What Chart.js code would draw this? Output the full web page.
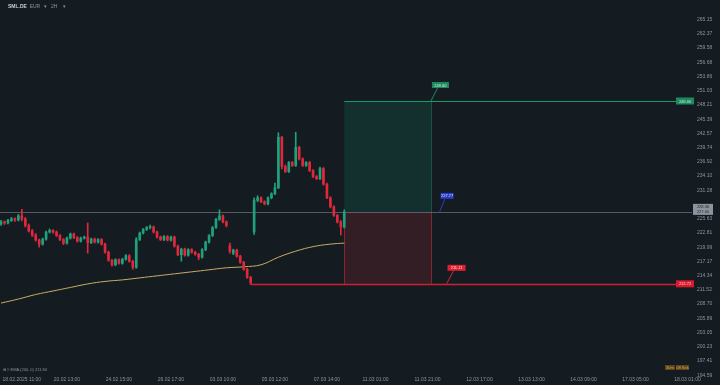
<!DOCTYPE html>
<html>
<head>
<meta charset="utf-8">
<title>SML.DE</title>
<script src="https://cdn.jsdelivr.net/npm/chart.js@4.4.1/dist/chart.umd.min.js"></script>
<style>
  html, body { margin: 0; padding: 0; background: #141c22; }
  #wrap { position: relative; width: 720px; height: 385px; overflow: hidden; }
  #chart { display: block; }
  .txt { position: absolute; font-family: "Liberation Sans", Arial, sans-serif; font-size: 5px; color: #8d949b; white-space: nowrap; }
  .sym { color: #c9cdd2; font-weight: bold; }
</style>
</head>
<body>
<div id="wrap">
  <canvas id="chart" width="720" height="385"></canvas>
  <div class="txt" style="left:8px; top:3px;"><span class="sym">SML.DE</span>&nbsp; EUR &nbsp;&nbsp;▾</div>
  <div class="txt" style="left:51px; top:3px;">2H &nbsp;&nbsp;&nbsp;▾</div>
  <div class="txt" style="left:3px; top:367px; font-size:4px;">⊞ ≡ EMA (200, 0) 211.84</div>
</div>

<script>
// Kerzen (2h)
const openPrices = [
  224.6, 225.0, 224.8, 225.3, 225.6, 225.4, 226.2, 225.6, 224.3, 223.2,
  222.4, 221.4, 220.6, 221.6, 223.0, 223.3, 223.0, 222.3, 221.5, 220.8,
  221.8, 222.6, 221.9, 221.2, 221.8, 222.0, 220.9, 221.6, 221.0, 221.5,
  220.6, 219.0, 217.4, 216.5, 217.5, 216.8, 217.6, 218.3, 217.2, 216.0,
  221.5, 222.8, 223.5, 223.9, 224.0, 223.0, 222.0, 221.5, 222.1, 221.4,
  222.0, 220.2, 218.5, 219.6, 218.4, 219.5, 219.0, 218.6, 218.0, 219.5,
  221.0, 222.3, 223.9, 225.5, 226.2, 225.0, 220.3, 218.8, 219.4, 218.2,
  217.0, 215.6, 214.0, 223.0, 229.3, 229.8, 229.0, 228.6, 229.8, 230.6,
  231.8, 241.8, 236.0, 235.0, 236.8, 236.2, 239.8, 237.5, 236.2, 236.8,
  235.2, 234.0, 233.6, 235.6, 232.5, 229.8, 228.0, 226.3, 225.0, 224.0
];
const highPrices = [
  225.3, 225.2, 225.5, 225.9, 225.8, 226.5, 227.5, 225.9, 224.6, 223.5,
  222.7, 221.6, 221.8, 223.2, 223.6, 223.5, 223.2, 222.5, 221.7, 222.0,
  222.8, 222.8, 222.1, 222.0, 222.2, 224.8, 221.8, 221.8, 221.7, 221.7,
  220.8, 219.2, 217.6, 217.7, 217.7, 217.8, 218.5, 218.5, 217.4, 221.9,
  223.0, 223.7, 224.1, 224.4, 224.2, 223.2, 222.2, 222.3, 222.3, 222.2,
  222.2, 220.4, 219.8, 219.8, 219.7, 219.7, 219.2, 218.8, 219.7, 221.2,
  222.5, 224.1, 225.7, 227.4, 226.4, 225.2, 220.8, 219.6, 219.6, 218.4,
  217.2, 215.8, 214.2, 229.8, 230.2, 230.0, 229.2, 230.0, 230.8, 232.7,
  242.7, 242.0, 236.3, 237.0, 237.0, 242.8, 240.0, 237.7, 237.0, 237.0,
  235.4, 234.2, 235.9, 235.8, 232.7, 230.0, 228.2, 226.5, 225.3, 227.4
];
const lowPrices = [
  224.3, 224.5, 224.6, 225.1, 225.1, 225.2, 225.2, 224.0, 223.0, 222.1,
  221.2, 220.0, 220.4, 221.4, 222.8, 222.7, 222.1, 221.3, 220.5, 220.6,
  221.6, 221.7, 221.0, 221.0, 221.6, 218.8, 220.7, 220.8, 220.8, 220.4,
  218.8, 217.2, 216.2, 216.3, 216.6, 216.6, 217.4, 217.0, 215.6, 215.8,
  221.3, 222.6, 223.3, 223.6, 222.8, 221.8, 221.3, 221.3, 221.2, 221.2,
  220.0, 218.3, 217.2, 218.2, 218.2, 218.8, 218.4, 217.5, 217.8, 219.3,
  220.8, 222.1, 223.7, 225.3, 224.8, 224.0, 218.8, 218.5, 218.0, 216.8,
  215.4, 213.8, 212.6, 222.5, 229.0, 228.8, 228.4, 228.4, 229.6, 230.4,
  231.6, 235.5, 234.8, 234.8, 236.0, 236.0, 237.3, 236.0, 236.0, 235.0,
  233.8, 233.4, 233.4, 232.3, 229.6, 227.8, 226.1, 224.8, 222.4, 223.8
];
const closePrices = [
  225.0, 224.8, 225.3, 225.6, 225.4, 226.2, 225.6, 224.3, 223.2, 222.4,
  221.4, 220.6, 221.6, 223.0, 223.3, 223.0, 222.3, 221.5, 220.8, 221.8,
  222.6, 221.9, 221.2, 221.8, 222.0, 220.9, 221.6, 221.0, 221.5, 220.6,
  219.0, 217.4, 216.5, 217.5, 216.8, 217.6, 218.3, 217.2, 216.0, 221.5,
  222.8, 223.5, 223.9, 224.0, 223.0, 222.0, 221.5, 222.1, 221.4, 222.0,
  220.2, 218.5, 219.6, 218.4, 219.5, 219.0, 218.6, 218.0, 219.5, 221.0,
  222.3, 223.9, 225.5, 226.2, 225.0, 224.3, 219.2, 219.4, 218.2, 217.0,
  215.6, 214.0, 212.9, 229.3, 229.8, 229.0, 228.6, 229.8, 230.6, 231.8,
  241.8, 236.0, 235.0, 236.8, 236.2, 239.8, 237.5, 236.2, 236.8, 235.2,
  234.0, 233.6, 235.6, 232.5, 229.8, 228.0, 226.3, 225.0, 224.0, 227.0
];

// EMA 200 (Stützpunkte)
const emaIndex = [0, 5, 10, 15, 20, 25, 30, 35, 40, 45, 50, 55, 60, 65, 70, 75, 80, 85, 90, 95, 99];
const emaValues = [208.9, 209.7, 210.6, 211.3, 212.0, 212.7, 213.2, 213.5, 213.9, 214.3, 214.7,
                   215.1, 215.5, 215.9, 216.1, 216.5, 218.0, 219.2, 220.1, 220.6, 220.8];

// Achsen
const priceTicks = [265.15, 262.37, 259.58, 256.68, 253.86, 251.03, 248.21, 245.39, 242.57, 239.74,
                    236.92, 234.10, 231.28, 225.63, 222.81, 219.99, 217.17, 214.34, 211.52,
                    208.70, 205.89, 203.05, 200.23, 197.41, 194.59];
const timeTickIndex = [6, 19, 34, 49, 64, 79, 94, 108, 123, 138, 153, 168, 183, 198];
const timeLabels = ["18.02.2025 11:00", "20.02 13:00", "24.02 15:00", "26.02 17:00", "03.03 10:00",
                    "05.03 12:00", "07.03 14:00", "11.03 01:00", "11.03 21:00", "12.03 17:00",
                    "13.03 13:00", "14.03 09:00", "17.03 05:00", "18.03 01:00"];

// Long-Position
const entryPrice = 227.00;
const targetPrice = 249.00;
const stopPrice = 212.72;
const positionStart = 99;
const positionEnd = 124;
const stopLineStart = 72;

// kleine Preis-Notizen am Positionsfeld
const notePrices = [249.00, 227.00, 212.72];
const noteIndex = [124, 126.5, 128.5];
const noteLabels = ["249.00", "227.77", "211.11"];

const UP = '#1fa27b';
const DOWN = '#e0283c';
const BG = '#141c22';
const FONT = '"Liberation Sans", Arial, sans-serif';

const candleColors = openPrices.map(function (o, i) {
    return closePrices[i] >= o ? UP : DOWN;
});

function labelBox(ctx, text, x, y, w, h, bg, fg) {
    ctx.fillStyle = bg;
    ctx.fillRect(x, y, w, h);
    ctx.fillStyle = fg;
    ctx.textAlign = 'center';
    ctx.textBaseline = 'middle';
    ctx.fillText(text, x + w / 2, y + h / 2 + 0.5);
}

const positionTool = {
    id: 'positionTool',
    beforeDraw: function (chart) {
        const ctx = chart.ctx;
        ctx.save();
        ctx.fillStyle = BG;
        ctx.fillRect(0, 0, chart.width, chart.height);
        ctx.restore();
    },
    beforeDatasetsDraw: function (chart) {
        const ctx = chart.ctx;
        const xs = chart.scales.x, ys = chart.scales.y;
        const area = chart.chartArea;
        const x0 = xs.getPixelForValue(positionStart);
        const x1 = xs.getPixelForValue(positionEnd);
        const yT = ys.getPixelForValue(targetPrice);
        const yE = ys.getPixelForValue(entryPrice);
        const yS = ys.getPixelForValue(stopPrice);
        ctx.save();
        // Ziel- und Stopfeld
        ctx.fillStyle = 'rgba(20, 150, 115, 0.17)';
        ctx.fillRect(x0, yT, x1 - x0, yE - yT);
        ctx.fillStyle = 'rgba(235, 50, 65, 0.15)';
        ctx.fillRect(x0, yE, x1 - x0, yS - yE);
        ctx.lineWidth = 1;
        ctx.strokeStyle = 'rgba(30, 150, 110, 0.45)';
        ctx.beginPath();
        ctx.moveTo(Math.round(x1) + 0.5, yT);
        ctx.lineTo(Math.round(x1) + 0.5, yE);
        ctx.stroke();
        ctx.strokeStyle = 'rgba(210, 40, 55, 0.6)';
        ctx.beginPath();
        ctx.moveTo(Math.round(x0) + 0.5, yE);
        ctx.lineTo(Math.round(x0) + 0.5, yS);
        ctx.moveTo(Math.round(x1) + 0.5, yE);
        ctx.lineTo(Math.round(x1) + 0.5, yS);
        ctx.stroke();
        // Einstiegslinie über den ganzen Chart
        ctx.strokeStyle = 'rgba(125, 135, 145, 0.6)';
        ctx.beginPath();
        ctx.moveTo(area.left, Math.round(yE) + 0.5);
        ctx.lineTo(area.right, Math.round(yE) + 0.5);
        ctx.stroke();
        // Ziel-Linie
        ctx.strokeStyle = '#179a66';
        ctx.beginPath();
        ctx.moveTo(x0, Math.round(yT) + 0.5);
        ctx.lineTo(area.right - 16, Math.round(yT) + 0.5);
        ctx.stroke();
        // Stop-Linie
        ctx.strokeStyle = '#d21e30';
        ctx.lineWidth = 1.5;
        ctx.beginPath();
        ctx.moveTo(xs.getPixelForValue(stopLineStart), Math.round(yS) + 0.5);
        ctx.lineTo(area.right - 16, Math.round(yS) + 0.5);
        ctx.stroke();
        ctx.restore();
    },
    afterDraw: function (chart) {
        const ctx = chart.ctx;
        const xs = chart.scales.x, ys = chart.scales.y;
        const area = chart.chartArea;
        ctx.save();
        ctx.font = '4px ' + FONT;
        // Preisschilder rechts an den Linien
        labelBox(ctx, targetPrice.toFixed(2), area.right - 16, ys.getPixelForValue(targetPrice) - 3.5, 18, 7, '#1c8a5f', '#cdeedd');
        labelBox(ctx, stopPrice.toFixed(2), area.right - 16, ys.getPixelForValue(stopPrice) - 3.5, 18, 7, '#d81b2c', '#ffd6d9');
        // aktueller Kurs auf der Preisachse
        const yE = ys.getPixelForValue(entryPrice);
        ctx.fillStyle = '#8c959e';
        ctx.fillRect(area.right + 1, yE - 8, 20, 11);
        ctx.fillStyle = '#1b2329';
        ctx.textAlign = 'center';
        ctx.textBaseline = 'middle';
        ctx.fillText('228.36', area.right + 11, yE - 5);
        ctx.fillText(entryPrice.toFixed(2), area.right + 11, yE);
        // Notizen mit Verbindungslinie
        const noteBg = ['#1d8a5c', '#2a3bc4', '#e0202f'];
        const noteFg = ['#d4f3e3', '#dfe3ff', '#ffe1e3'];
        const noteW = [17, 13, 18];
        notePrices.forEach(function (p, k) {
            const ax = xs.getPixelForValue(noteIndex[k]);
            const ay = ys.getPixelForValue(p);
            const bx = ax + 1, by = ay - 19;
            ctx.strokeStyle = noteBg[k];
            ctx.lineWidth = 1;
            ctx.beginPath();
            ctx.moveTo(ax, ay);
            ctx.lineTo(bx + noteW[k] / 3, by + 6);
            ctx.stroke();
            labelBox(ctx, noteLabels[k], bx, by, noteW[k], 6, noteBg[k], noteFg[k]);
        });
        // Countdown unten rechts
        ctx.font = '4px ' + FONT;
        ctx.fillStyle = 'rgba(150, 100, 30, 0.55)';
        ctx.fillRect(area.right - 27, area.bottom - 11, 10, 5);
        ctx.fillRect(area.right - 16, area.bottom - 11, 13, 5);
        ctx.fillStyle = '#e0a64a';
        ctx.fillText('30m', area.right - 22, area.bottom - 8.3);
        ctx.fillText('08 Sek', area.right - 9.5, area.bottom - 8.3);
        ctx.restore();
    }
};

document.addEventListener('DOMContentLoaded', function () {
    const idx = openPrices.map(function (_, i) { return i; });

    const wicks = idx.map(function (i) { return { x: i, y: [lowPrices[i], highPrices[i]] }; });
    const bodies = idx.map(function (i) { return { x: i, y: [openPrices[i], closePrices[i]] }; });
    const ema = emaIndex.map(function (x, k) { return { x: x, y: emaValues[k] }; });

    const contexto = document.getElementById('chart').getContext('2d');

    new Chart(contexto, {
        type: 'bar',
        data: {
            datasets: [
                {
                    type: 'line',
                    data: ema,
                    borderColor: '#c9ab62',
                    borderWidth: 1,
                    pointRadius: 0,
                    tension: 0.4,
                    order: 3
                },
                {
                    data: wicks,
                    backgroundColor: candleColors,
                    barThickness: 1,
                    grouped: false,
                    order: 2
                },
                {
                    data: bodies,
                    backgroundColor: candleColors,
                    barThickness: 2,
                    minBarLength: 1,
                    grouped: false,
                    order: 1
                }
            ]
        },
        options: {
            responsive: false,
            animation: false,
            layout: { padding: 0 },
            plugins: {
                legend: { display: false },
                tooltip: { enabled: false }
            },
            scales: {
                x: {
                    type: 'linear',
                    min: -0.3,
                    max: 199.3,
                    offset: false,
                    grid: { display: false, drawTicks: false },
                    border: { display: false },
                    ticks: {
                        autoSkip: false,
                        maxRotation: 0,
                        padding: 1,
                        color: '#8d949b',
                        font: { family: FONT, size: 5 },
                        callback: function (value) {
                            const k = timeTickIndex.indexOf(value);
                            return k >= 0 ? timeLabels[k] : '';
                        }
                    },
                    afterBuildTicks: function (scale) {
                        scale.ticks = timeTickIndex.map(function (v) { return { value: v }; });
                    },
                    afterFit: function (scale) {
                        scale.height = 9;
                        scale.paddingLeft = 0;
                        scale.paddingRight = 0;
                    }
                },
                y: {
                    position: 'right',
                    min: 194.43,
                    max: 269.04,
                    grid: { display: false, drawTicks: false },
                    border: { display: false },
                    ticks: {
                        padding: 5,
                        color: '#8d949b',
                        font: { family: FONT, size: 5 },
                        callback: function (value) { return value.toFixed(2); }
                    },
                    afterBuildTicks: function (scale) {
                        scale.ticks = priceTicks.map(function (v) { return { value: v }; });
                    },
                    afterFit: function (scale) {
                        scale.width = 28;
                        scale.paddingTop = 0;
                        scale.paddingBottom = 0;
                    }
                }
            }
        },
        plugins: [positionTool]
    });
});
</script>
</body>
</html>
